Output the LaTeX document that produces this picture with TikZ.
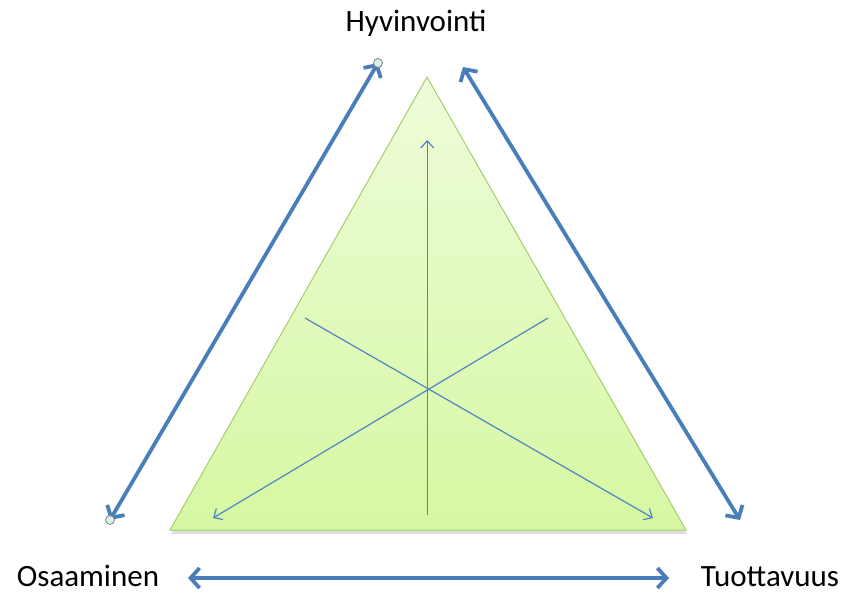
\documentclass[tikz,border=0pt]{standalone}
\usepackage{fontspec}
\setmainfont{Carlito}
\usepackage{tikz}
\usetikzlibrary{arrows.meta,positioning}
\definecolor{ink}{HTML}{000000}
\definecolor{arrowc}{HTML}{4A7EBB}
\definecolor{thinc}{HTML}{5282C2}
\definecolor{tridraw}{HTML}{A6CC70}
\definecolor{tritop}{HTML}{EEFCDA}
\definecolor{tribot}{HTML}{D6F8A2}
\definecolor{handle}{HTML}{D8F0F0}
\tikzset{
  lbl/.style={font=\fontsize{31}{36}\selectfont,text=ink,inner sep=0pt,anchor=base},
  big/.style={{Straight Barb[length=9pt,width=20pt]}-{Straight Barb[length=9pt,width=20pt]},
    line width=3.8pt,color=arrowc},
  inner/.style={-{Straight Barb[length=7pt,width=13pt]},line width=1.2pt,color=thinc},
  dot/.style={circle,draw=gray,fill=handle,line width=0.8pt,minimum size=9pt,inner sep=0pt}
}
\begin{document}
\begin{tikzpicture}[x=1pt,y=-1pt]
  \useasboundingbox (0,0) rectangle (848,594);
  % triangle corners
  \coordinate (T) at (427,77);
  \coordinate (L) at (170,530);
  \coordinate (R) at (686,530);
  % shadow and body
  \fill[gray!45,opacity=0.6] ([shift={(1,4)}]T) -- ([shift={(1,4)}]L) -- ([shift={(1,4)}]R) -- cycle;
  \shade[top color=tritop,bottom color=tribot,draw=tridraw,line width=1pt] (T) -- (L) -- (R) -- cycle;
  % inner lines
  \coordinate (vb) at (427.2,515);
  \coordinate (vt) at (427.2,140);
  \coordinate (d1a) at (305,318);
  \coordinate (d1b) at (653,518);
  \coordinate (d2a) at (548,318);
  \coordinate (d2b) at (213,518);
  \draw[inner] (vb) -- (vt);
  \draw[inner] (d1a) -- (d1b);
  \draw[inner] (d2a) -- (d2b);
  % labels
  \node[lbl] (hyv) at (416,32) {Hyvinvointi};
  \node[lbl] (osa) at (88,586) {Osaaminen};
  \node[lbl] (tuo) at (770,586) {Tuottavuus};
  % outer arrows
  \coordinate (lt) at (378,63);
  \coordinate (lb) at (110,520);
  \coordinate (rt) at (463,67);
  \coordinate (rb) at (740,520);
  \coordinate (bl) at (188,578);
  \coordinate (br) at (669,578);
  \draw[big] (lb) -- (lt);
  \draw[big] (rt) -- (rb);
  \draw[big] (bl) -- (br);
  \node[dot] at (lt) {};
  \node[dot] at (lb) {};
\end{tikzpicture}
\end{document}
